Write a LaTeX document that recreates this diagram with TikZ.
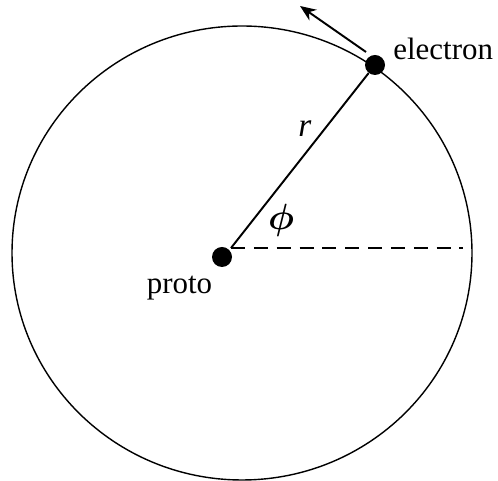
\documentclass[tikz,border=0pt]{standalone}
\usepackage{fontspec}
\setmainfont{Liberation Serif}
\usepackage{amsmath}
\usetikzlibrary{arrows.meta,positioning,calc}
\definecolor{INK}{HTML}{000000}

\tikzset{
  particle/.style={circle, fill=INK, inner sep=0pt, minimum size=0.40cm},
  orbitlbl/.style={font=\fontsize{17.6}{20}\selectfont, color=INK, inner sep=0pt}
}

\begin{document}
\begin{tikzpicture}

    \useasboundingbox (0,0) rectangle (9.96,9.62);

    %% ── orbit ────────────────────────────────────────
    \draw[INK, line width=0.8pt]
      (4.84,4.56) ellipse (4.60 and 4.54);

    %% ── particles ────────────────────────────────────
    \node[particle] (proton)   at (4.44,4.48) {};
    \node[particle] (electron) at (7.50,8.32) {};

    \node[orbitlbl, anchor=base] (protolbl) at (3.59,3.74) {proto};
    \node[orbitlbl, anchor=base west] (electronlbl) at (7.86,8.42) {electron};

    %% ── radius and reference axis ────────────────────
    \coordinate (vertex) at (4.62,4.66);
    \coordinate (axisend) at (9.26,4.66);
    \draw[INK, line width=1.1pt] (vertex) -- (electron);
    \draw[INK, line width=1.1pt, dash pattern=on 8pt off 5pt]
      (vertex) -- (axisend);

    \node[orbitlbl, anchor=base] (rlbl) at (6.10,6.88)
      {\fontsize{19}{20}\selectfont\textit{r}};
    \node[orbitlbl, anchor=base] (philbl) at (5.62,5.02)
      {\fontsize{20}{22}\selectfont$\boldsymbol{\phi}$};

    %% ── velocity arrow ───────────────────────────────
    \coordinate (vtail) at (7.32,8.58);
    \coordinate (vhead) at (6.00,9.50);
    \draw[INK, line width=1.1pt, -{Stealth[length=0.32cm, width=0.26cm]}]
      (vtail) -- (vhead);

  \end{tikzpicture}
\end{document}
